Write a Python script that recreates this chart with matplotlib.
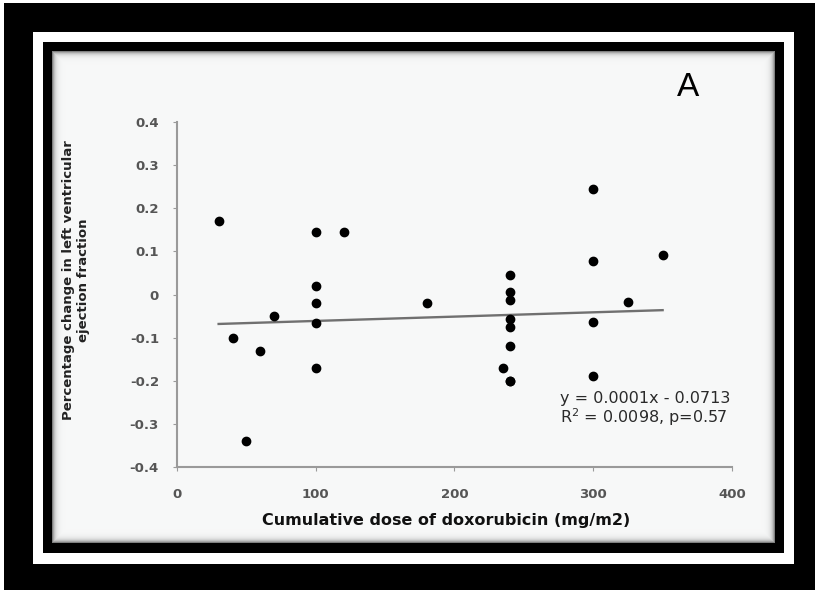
import numpy as np
import matplotlib.pyplot as plt
from matplotlib.patches import Rectangle

plt.rcParams['font.family'] = ['DejaVu Sans']
plt.rcParams['axes.unicode_minus'] = False

# cumulative doxorubicin dose (mg/m2) vs change in LVEF
dose = [30, 40, 50, 60, 70, 100, 100, 100, 100, 100, 120, 180, 235,
        240, 240, 240, 240, 240, 240, 240, 240, 300, 300, 300, 300, 325, 350]
change = [0.17, -0.10, -0.34, -0.13, -0.05, 0.145, 0.02, -0.02, -0.065, -0.17,
          0.145, -0.02, -0.17, 0.045, 0.005, -0.012, -0.057, -0.076, -0.12,
          -0.20, -0.20, 0.245, 0.077, -0.063, -0.19, -0.018, 0.092]

slope = 0.0001
intercept = -0.0713
fit_x = [30, 350]

x_ticks = [0, 100, 200, 300, 400]
y_ticks = [-0.4, -0.3, -0.2, -0.1, 0, 0.1, 0.2, 0.3, 0.4]
y_labels = ['-0.4', '-0.3', '-0.2', '-0.1', '0', '0.1', '0.2', '0.3', '0.4']

W, H = 815, 590
fig = plt.figure(figsize=(W / 100, H / 100), dpi=100, facecolor='white')


def box(x0, y0, x1, y1):
    # pixel box (top-left origin) -> figure fraction rect
    return [x0 / W, 1 - y1 / H, (x1 - x0) / W, (y1 - y0) / H]


def frame(x0, y0, x1, y1, color):
    l, b, w, h = box(x0, y0, x1, y1)
    fig.patches.append(Rectangle((l, b), w, h, transform=fig.transFigure,
                                 facecolor=color, edgecolor='none', zorder=-5))


frame(4, 3, W, H, 'black')
frame(33, 32, 794, 564, 'white')
frame(43, 42, 784, 553, 'black')

# panel background with a soft darker rim
bg = fig.add_axes(box(52, 51, 775, 543), zorder=-2)
ph, pw = 543 - 51, 775 - 52
yy, xx = np.mgrid[0:ph, 0:pw]
d = np.minimum(np.minimum(xx, pw - 1 - xx), np.minimum(yy, ph - 1 - yy))
shade = 0.972 - (0.972 - 0.5) * np.exp(-d / 2.5)
rgb = np.dstack([shade, shade + 0.003, shade + 0.003]).clip(0, 1)
bg.imshow(rgb, aspect='auto', interpolation='nearest')
bg.axis('off')

ax = fig.add_axes(box(177, 122, 732, 467))
ax.patch.set_alpha(0)
ax.plot(fit_x, [slope * v + intercept for v in fit_x], color='#707070', lw=1.7, zorder=2)
ax.plot(dose, change, 'o', color='black', ms=6, zorder=3)

ax.set_xlim(0, 400)
ax.set_ylim(-0.4, 0.4)
ax.set_xticks(x_ticks)
ax.set_yticks(y_ticks)
ax.set_yticklabels(y_labels)
for s in ['top', 'right']:
    ax.spines[s].set_visible(False)
for s in ['left', 'bottom']:
    ax.spines[s].set_color('#9a9a9a')
    ax.spines[s].set_linewidth(1.5)
for a in ['x', 'y']:
    ax.tick_params(axis=a, length=3, color='#9a9a9a', labelsize=9.5, labelcolor='#555555')
ax.tick_params(axis='y', pad=10)
ax.tick_params(axis='x', pad=12)
for lab in ax.get_xticklabels() + ax.get_yticklabels():
    lab.set_fontweight('bold')

fig.text(446 / W, 1 - 520 / H, 'Cumulative dose of doxorubicin (mg/m2)', ha='center',
         va='center', fontsize=11.5, fontweight='bold', color='#111111')

fig.text(76 / W, 1 - 280 / H, 'Percentage change in left ventricular\nejection fraction',
         rotation=90, ha='center', va='center', multialignment='center',
         fontsize=9.5, fontweight='bold', color='#222222', linespacing=1.15)

fig.text(688 / W, 1 - 87 / H, 'A', ha='center', va='center', fontsize=24,
         family='Liberation Sans', color='black')

fig.text(560 / W, 1 - 398 / H, 'y = 0.0001x - 0.0713', ha='left', va='center',
         fontsize=11.5, color='#2a2a2a')
fig.text(560 / W, 1 - 417 / H, 'R$^2$ = 0.0098, p=0.57', ha='left', va='center',
         fontsize=11.5, color='#2a2a2a')

fig.savefig('out.png', dpi=100, facecolor=fig.get_facecolor())
